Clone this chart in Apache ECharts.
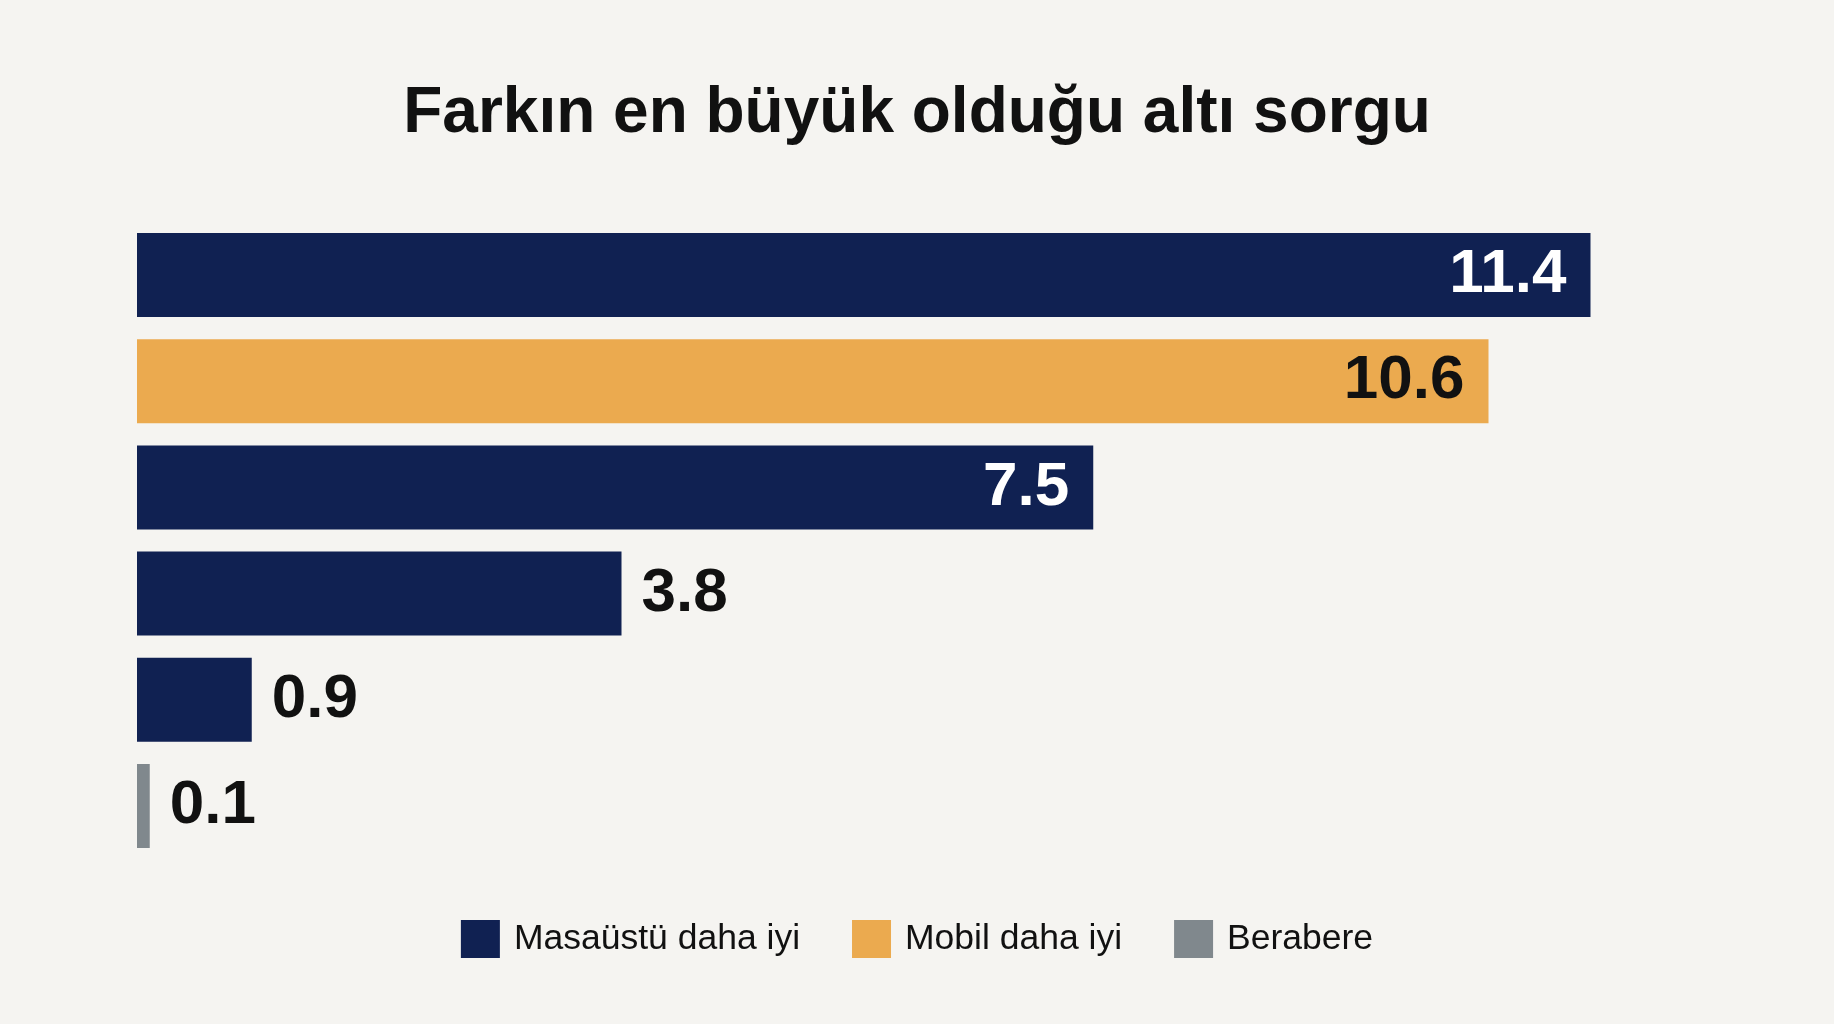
<!DOCTYPE html>
<html>
	<head>
		<meta charset="utf-8" />
		<title>Farkın en büyük olduğu altı sorgu</title>
		<script src="https://cdn.jsdelivr.net/npm/echarts@6/dist/echarts.min.js"></script>
		<style>
			html, body { margin: 0; padding: 0; background: #f5f4f1; }
			#main { width: 1834px; height: 1024px; }
		</style>
	</head>
	<body>
		<div id="main"></div>
	</body>
	<script type="text/javascript">
		// sorgular, yukaridan asagiya
		var categories = ['Sorgu 1', 'Sorgu 2', 'Sorgu 3', 'Sorgu 4', 'Sorgu 5', 'Sorgu 6'];
		var seriesNames = ['Masaüstü daha iyi', 'Mobil daha iyi', 'Berabere'];
		var masaustu = [11.4, null, 7.5, 3.8, 0.9, null];
		var mobil = [null, 10.6, null, null, null, null];
		var berabere = [null, null, null, null, null, 0.1];

		var colors = ['#102152', '#ebaa4f', '#80888d'];
		var insideText = ['#ffffff', '#111111', '#111111'];

		function buildData(values, idx) {
			return values.map(function (v) {
				if (v == null) return null;
				// uzun cubuklarda deger icerde
				if (v > 5) {
					return { value: v, label: { position: 'insideRight', distance: 24, color: insideText[idx] } };
				}
				return { value: v, label: { position: 'right', distance: 20, color: '#111111' } };
			});
		}

		var myChart = echarts.init(document.getElementById('main'));
		var option = {
			backgroundColor: '#f5f4f1',
			title: {
				text: 'Farkın en büyük olduğu altı sorgu',
				left: 'center',
				top: 77,
				textStyle: {
					fontFamily: 'Liberation Sans, Arial, sans-serif',
					fontSize: 64,
					fontWeight: 'bold',
					color: '#111111'
				}
			},
			legend: {
				data: seriesNames,
				left: 'center',
				top: 915,
				itemWidth: 39,
				itemHeight: 38,
				itemGap: 52,
				icon: 'rect',
				textStyle: {
					fontFamily: 'Liberation Sans, Arial, sans-serif',
					fontSize: 35.5,
					color: '#111111',
					padding: [0, 0, 0, 9]
				}
			},
			grid: {
				left: 137,
				right: 167,
				top: 222,
				bottom: 165
			},
			xAxis: {
				type: 'value',
				min: 0,
				max: 12,
				show: false
			},
			yAxis: {
				type: 'category',
				data: categories,
				inverse: true,
				show: false
			},
			series: [masaustu, mobil, berabere].map(function (vals, i) {
				return {
					name: seriesNames[i],
					type: 'bar',
					stack: 'fark',
					barWidth: 84,
					data: buildData(vals, i),
					itemStyle: { color: colors[i] },
					label: {
						show: true,
						fontFamily: 'Liberation Sans, Arial, sans-serif',
						fontSize: 62,
						fontWeight: 'bold',
						formatter: function (p) { return p.value.toFixed(1); }
					}
				};
			}),
			animation: false
		};
		myChart.setOption(option);
	</script>
</html>
